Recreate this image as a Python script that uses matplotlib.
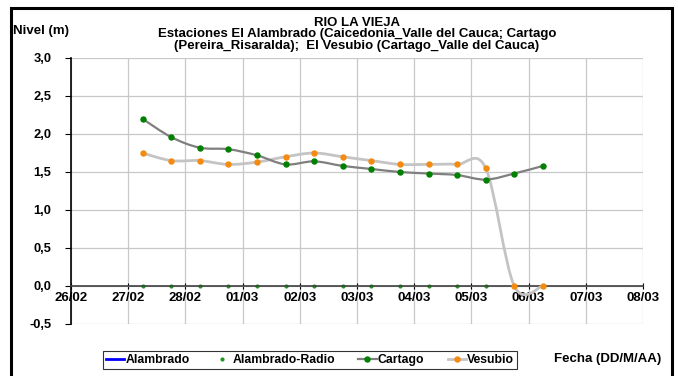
import numpy as np
import matplotlib
matplotlib.use("Agg")
import matplotlib.pyplot as plt
from matplotlib.path import Path
from matplotlib.patches import PathPatch, Rectangle

plt.rcParams["font.family"] = ["Liberation Sans", "DejaVu Sans"]
plt.rcParams["font.weight"] = "bold"

# days since 26/02 (12 h steps starting 27/02 06:00)
t_cartago = [1.25, 1.75, 2.25, 2.75, 3.25, 3.75, 4.25, 4.75, 5.25, 5.75, 6.25, 6.75, 7.25, 7.75, 8.25]
cartago = [2.20, 1.96, 1.82, 1.80, 1.72, 1.60, 1.64, 1.58, 1.54, 1.50, 1.48, 1.46, 1.40, 1.48, 1.58]

t_vesubio = [1.25, 1.75, 2.25, 2.75, 3.25, 3.75, 4.25, 4.75, 5.25, 5.75, 6.25, 6.75, 7.25, 7.75, 8.25]
vesubio = [1.75, 1.65, 1.65, 1.60, 1.63, 1.70, 1.75, 1.70, 1.65, 1.60, 1.60, 1.60, 1.55, 0.00, 0.00]

t_radio = [1.25, 1.75, 2.25, 2.75, 3.25, 3.75, 4.25, 4.75, 5.25, 5.75, 6.25, 6.75, 7.25]
radio = [0.0] * len(t_radio)

alambrado_t = []
alambrado = []

date_labels = ["26/02", "27/02", "28/02", "01/03", "02/03", "03/03",
               "04/03", "05/03", "06/03", "07/03", "08/03"]
y_ticks = [-0.5, 0.0, 0.5, 1.0, 1.5, 2.0, 2.5, 3.0]

title_lines = ["RIO LA VIEJA",
               "Estaciones El Alambrado (Caicedonia_Valle del Cauca; Cartago",
               "(Pereira_Risaralda);  El Vesubio (Cartago_Valle del Cauca)"]


def smooth_path(xs, ys):
    # Excel-like smoothed line: cubic Bezier with 1/6 neighbour tangents
    p = np.column_stack([xs, ys])
    n = len(p)
    verts = [p[0]]
    codes = [Path.MOVETO]
    for i in range(n - 1):
        p0 = p[i - 1] if i > 0 else p[i]
        p3 = p[i + 2] if i + 2 < n else p[i + 1]
        c1 = p[i] + (p[i + 1] - p0) / 6.0
        c2 = p[i + 1] - (p3 - p[i]) / 6.0
        verts += [c1, c2, p[i + 1]]
        codes += [Path.CURVE4] * 3
    return Path(verts, codes)


fig = plt.figure(figsize=(6.78, 3.76), dpi=100)
fig.patch.set_facecolor("white")
ax = fig.add_axes([71 / 678, 1 - 324 / 376, (643 - 71) / 678, (324 - 58) / 376])

# outer frame
fig.patches.append(Rectangle((11 / 678, -0.05), (672 - 11) / 678, 1.05 - 8 / 376,
                             transform=fig.transFigure, fill=False,
                             edgecolor="black", linewidth=2.2))

ax.set_xlim(0, 10)
ax.set_ylim(-0.5, 3.0)
ax.set_xticks(range(11))
ax.set_xticklabels(date_labels)
ax.set_yticks(y_ticks)
ax.set_yticklabels([f"{v:.1f}".replace(".", ",") for v in y_ticks])
ax.grid(True, color="#C8C8C8", linewidth=0.9)
ax.set_axisbelow(True)

for s in ["top", "right"]:
    ax.spines[s].set_visible(False)
ax.spines["bottom"].set_position(("data", 0))
ax.spines["bottom"].set_color("#404040")
ax.spines["bottom"].set_linewidth(1.2)
ax.spines["left"].set_color("black")
ax.spines["left"].set_linewidth(1.2)
ax.tick_params(axis="x", direction="inout", length=5, pad=1.5, labelsize=9.5)
ax.tick_params(axis="y", direction="out", length=4, pad=10, labelsize=9.3)

# series
ax.plot(alambrado_t, alambrado, color="#0000FF", linewidth=2, label="Alambrado")
ax.plot(t_radio, radio, linestyle="none", marker="o", markersize=2,
        color="#1F9A1F", label="Alambrado-Radio")

ax.add_patch(PathPatch(smooth_path(t_vesubio, vesubio), fill=False,
                       edgecolor="#C4C4C4", linewidth=2.0, zorder=3))
ax.plot(t_vesubio, vesubio, linestyle="none", marker="o", markersize=3.6,
        color="#F58A10", zorder=4)
ax.add_patch(PathPatch(smooth_path(t_cartago, cartago), fill=False,
                       edgecolor="#7F7F7F", linewidth=1.6, zorder=3))
ax.plot(t_cartago, cartago, linestyle="none", marker="o", markersize=3.6,
        color="#008000", zorder=5)

# legend proxies
h_alam, = ax.plot([], [], color="#0000FF", linewidth=2)
h_radio, = ax.plot([], [], linestyle="none", marker="o", markersize=2, color="#1F9A1F")
h_cart, = ax.plot([], [], color="#7F7F7F", linewidth=1.6, marker="o",
                  markersize=3.6, markerfacecolor="#008000", markeredgecolor="#008000")
h_ves, = ax.plot([], [], color="#C4C4C4", linewidth=2.0, marker="o",
                 markersize=3.6, markerfacecolor="#F58A10", markeredgecolor="#F58A10")
leg = fig.legend([h_alam, h_radio, h_cart, h_ves],
                 ["Alambrado", "Alambrado-Radio", "Cartago", "Vesubio"],
                 loc="center", bbox_to_anchor=(310 / 678, 1 - 360 / 376),
                 ncol=4, fontsize=8.8, frameon=True, fancybox=False,
                 handlelength=1.5, handletextpad=0.1, columnspacing=1.9,
                 borderpad=0.25, borderaxespad=0)
leg.get_frame().set_edgecolor("black")
leg.get_frame().set_linewidth(0.8)

# titles
for line, ypx in zip(title_lines, [22.5, 34, 45.5]):
    fig.text(357 / 678, 1 - ypx / 376, line, ha="center", va="center",
             fontsize=9.5, fontweight="bold")
fig.text(13 / 678, 1 - 31 / 376, "Nivel (m)", ha="left", va="center",
         fontsize=9.5, fontweight="bold")
fig.text(661 / 678, 1 - 359 / 376, "Fecha (DD/M/AA)", ha="right", va="center",
         fontsize=9.5, fontweight="bold")

fig.savefig("out.png", dpi=100)
